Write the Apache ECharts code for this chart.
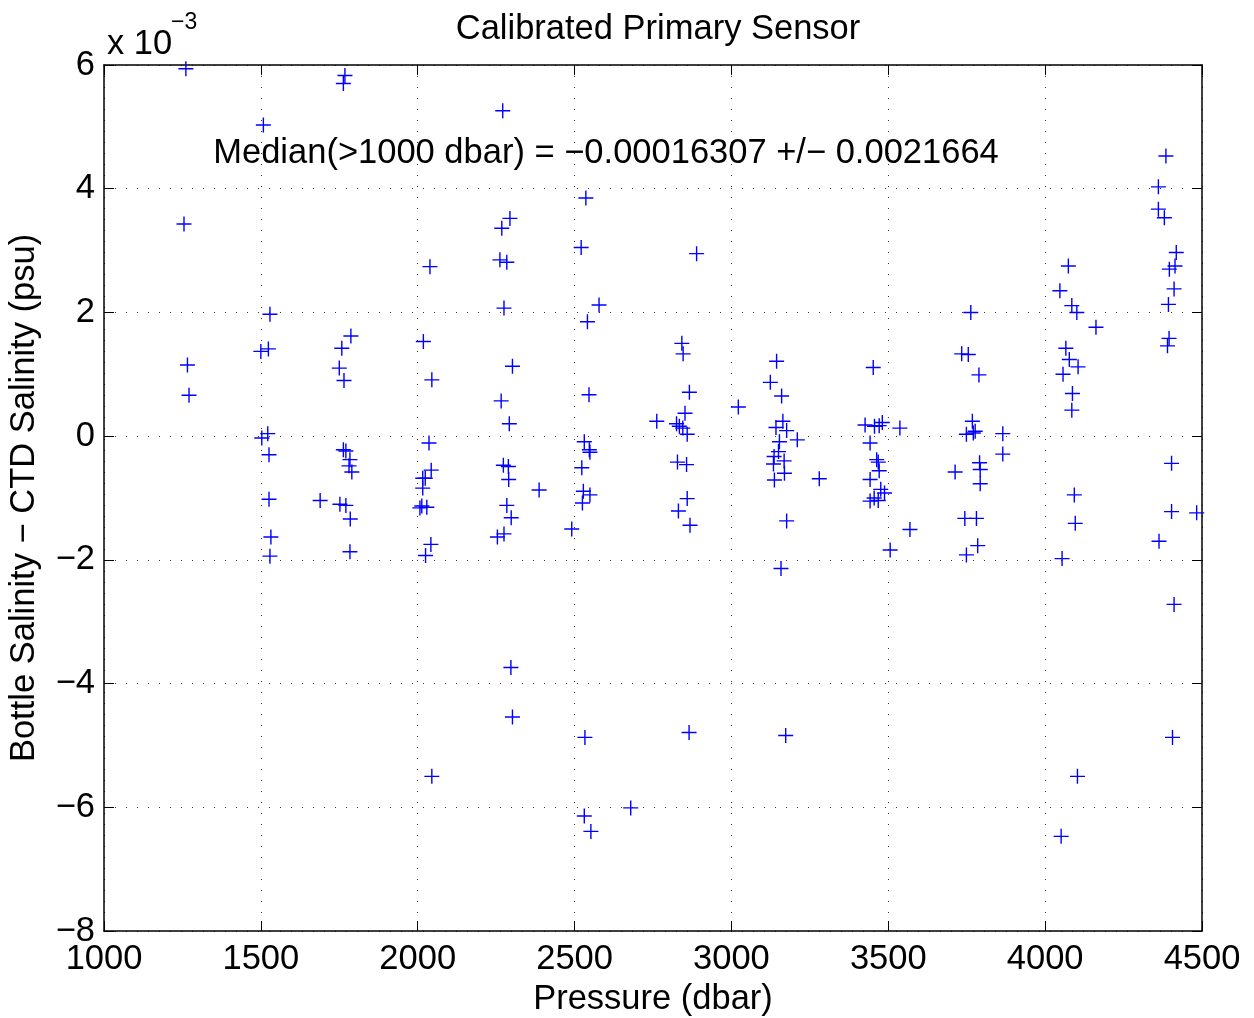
<!DOCTYPE html>
<html>
<head>
<meta charset="utf-8">
<script src="https://cdn.jsdelivr.net/npm/echarts@6/dist/echarts.min.js"></script>
<style>
html,body{margin:0;padding:0;background:#fff;}
#chart{width:1254px;height:1018px;}
</style>
</head>
<body>
<div id="chart"></div>
<script>
// Values in units of 1e-3 psu, pressure in dbar
const pressure = [
  1261, 1255, 1266, 1271,
  1508, 1500, 1524, 1529, 1503, 1522, 1526, 1526, 1532, 1529,
  1689, 1768, 1763, 1787, 1758, 1750, 1765, 1763, 1771, 1784, 1781, 1790, 1752, 1771, 1785, 1784,
  2018, 2039, 2045, 2036, 2043, 2016, 2024, 2016, 2007, 2013, 2029, 2042, 2025, 2045,
  2271, 2294, 2268, 2262, 2284, 2275, 2302, 2266, 2292, 2273, 2289, 2290, 2284, 2298, 2254, 2275, 2297, 2302, 2387,
  2491, 2536, 2521, 2578, 2541, 2546, 2531, 2547, 2549, 2523, 2528, 2549, 2525, 2533, 2531, 2552, 2679,
  2762, 2842, 2846, 2866, 2852, 2825, 2834, 2845, 2859, 2828, 2857, 2859, 2831, 2868, 2865, 2889,
  3022, 3144, 3124, 3160, 3164, 3142, 3176, 3210, 3153, 3150, 3136, 3168, 3134, 3169, 3137, 3280, 3176, 3158, 3173,
  3452, 3426, 3456, 3471, 3481, 3537, 3442, 3463, 3468, 3471, 3442, 3476, 3488, 3442, 3468, 3455, 3506, 3569,
  3763, 3734, 3755, 3789, 3768, 3749, 3777, 3771, 3865, 3865, 3713, 3791, 3793, 3793, 3744, 3781, 3785, 3749,
  4047, 4074, 4085, 4101, 4162, 4066, 4077, 4105, 4057, 4087, 4085, 4093, 4096, 4054, 4103, 4051,
  4385, 4361, 4361, 4380, 4418, 4396, 4414, 4411, 4393, 4395, 4390, 4403, 4403, 4483, 4363, 4411, 4406
];
const salinityDiff = [
  5.94, 3.43, 1.15, 0.66,
  5.03, 1.37, 1.41, 1.97, -0.03, 0.04, -0.30, -1.02, -1.63, -1.94,
  -1.04, 5.83, 5.70, 1.62, 1.42, 1.10, 0.90, -0.22, -0.24, -0.38, -0.48, -0.58, -1.10, -1.12, -1.34, -1.87,
  1.53, 2.74, 0.91, -0.11, -0.55, -0.68, -0.68, -0.84, -1.16, -1.13, -1.15, -1.75, -1.93, -5.50,
  5.26, 3.52, 3.36, 2.85, 2.81, 2.07, 1.13, 0.57, 0.20, -0.47, -0.49, -0.70, -1.12, -1.32, -1.63, -1.58, -3.74, -4.54, -0.87,
  -1.50, 3.85, 3.05, 2.12, 1.85, 0.67, -0.09, -0.22, -0.26, -0.51, -0.89, -0.95, -1.08, -4.87, -6.14, -6.39, -6.01,
  0.24, 1.50, 1.33, 0.71, 0.37, 0.20, 0.16, 0.13, 0.03, -0.42, -0.46, -1.01, -1.21, -1.44, -4.79, 2.95,
  0.47, 1.21, 0.87, 0.65, 0.24, 0.14, 0.09, -0.06, -0.09, -0.25, -0.33, -0.40, -0.45, -0.60, -0.71, -0.69, -1.37, -2.14, -4.84,
  1.11, 0.18, 0.16, 0.17, 0.22, 0.13, -0.11, -0.38, -0.42, -0.56, -0.70, -0.86, -0.92, -1.05, -1.04, -1.00, -1.84, -1.51,
  2.00, 1.33, 1.32, 0.99, 0.24, 0.03, 0.08, 0.05, 0.04, -0.29, -0.58, -0.43, -0.54, -0.77, -1.33, -1.33, -1.77, -1.92,
  2.35, 2.75, 2.11, 2.00, 1.76, 1.42, 1.24, 1.12, 1.00, 0.69, 0.42, -0.95, -1.41, -1.98, -5.50, -6.47,
  4.53, 4.03, 3.67, 3.53, 2.97, 2.70, 2.75, 2.38, 2.13, 1.58, 1.46, -0.44, -1.22, -1.24, -1.70, -2.72, -4.87
];
const xTicks = [1000, 1500, 2000, 2500, 3000, 3500, 4000, 4500];
const yTicks = [-8, -6, -4, -2, 0, 2, 4, 6];
const titleText = 'Calibrated Primary Sensor';
const xLabel = 'Pressure (dbar)';
const yLabel = 'Bottle Salinity \u2212 CTD Salinity (psu)';
const annotation = 'Median(>1000 dbar) = \u22120.00016307 +/\u2212 0.0021664';

const FONT = 'Liberation Sans, Arial, Helvetica, sans-serif';
const FS = 34.5;
const points = pressure.map((p, i) => [p, salinityDiff[i]]);
const fmtY = v => (v < 0 ? '\u2212' + Math.abs(v) : String(v));
const fmtX = v => String(v);

const chart = echarts.init(document.getElementById('chart'), null, {renderer: 'canvas'});
const gridLine = {show: true, lineStyle: {color: '#333', width: 1, type: [1, 10]}};
const tickStyle = {show: true, inside: true, length: 10, lineStyle: {color: '#000', width: 1}};
const frame = {show: true, onZero: false, lineStyle: {color: '#000', width: 1.5}};

chart.setOption({
  animation: false,
  backgroundColor: '#fff',
  textStyle: {fontFamily: FONT},
  title: {
    text: titleText, left: 653, top: 7, textAlign: 'center',
    textStyle: {fontFamily: FONT, fontSize: FS, fontWeight: 'normal', color: '#000'}
  },
  grid: {left: 104, top: 65, width: 1098, height: 866, containLabel: false, outerBoundsMode: 'none'},
  xAxis: [{
    type: 'value', min: xTicks[0], max: xTicks[xTicks.length - 1], interval: 500,
    position: 'bottom',
    name: xLabel, nameLocation: 'middle', nameGap: 47,
    nameTextStyle: {fontFamily: FONT, fontSize: FS, color: '#000'},
    axisLine: frame, axisTick: tickStyle, splitLine: gridLine,
    axisLabel: {fontFamily: FONT, fontSize: FS, color: '#000', margin: 11, formatter: fmtX}
  }, {
    type: 'value', min: xTicks[0], max: xTicks[xTicks.length - 1], interval: 500,
    position: 'top',
    axisLine: frame, axisTick: tickStyle, splitLine: {show: false},
    axisLabel: {show: false}
  }],
  yAxis: [{
    type: 'value', min: yTicks[0], max: yTicks[yTicks.length - 1], interval: 2,
    position: 'left',
    name: yLabel, nameLocation: 'middle', nameGap: 62, nameRotate: 90,
    nameTextStyle: {fontFamily: FONT, fontSize: FS, color: '#000'},
    axisLine: frame, axisTick: tickStyle, splitLine: gridLine,
    axisLabel: {fontFamily: FONT, fontSize: FS, color: '#000', margin: 9, formatter: fmtY}
  }, {
    type: 'value', min: yTicks[0], max: yTicks[yTicks.length - 1], interval: 2,
    position: 'right',
    axisLine: frame, axisTick: tickStyle, splitLine: {show: false},
    axisLabel: {show: false}
  }],
  series: [{
    type: 'scatter',
    data: points,
    symbol: 'path://M-0.7,-7.5H0.7V7.5H-0.7Z M-7.5,-0.7H7.5V0.7H-7.5Z',
    symbolSize: 15,
    itemStyle: {color: '#0000ff', opacity: 1},
    clip: false,
    z: 5
  }],
  graphic: [
    {type: 'text', left: 107, top: 27, style: {text: 'x 10', fontFamily: FONT, fontSize: FS, fill: '#000'}},
    {type: 'text', left: 171, top: 11, style: {text: '\u22123', fontFamily: FONT, fontSize: 23, fill: '#000'}},
    {type: 'text', x: 606, y: 153, style: {text: annotation, fontFamily: FONT, fontSize: FS, fill: '#000', align: 'center', verticalAlign: 'middle'}, z: 10}
  ]
});
</script>
</body>
</html>
